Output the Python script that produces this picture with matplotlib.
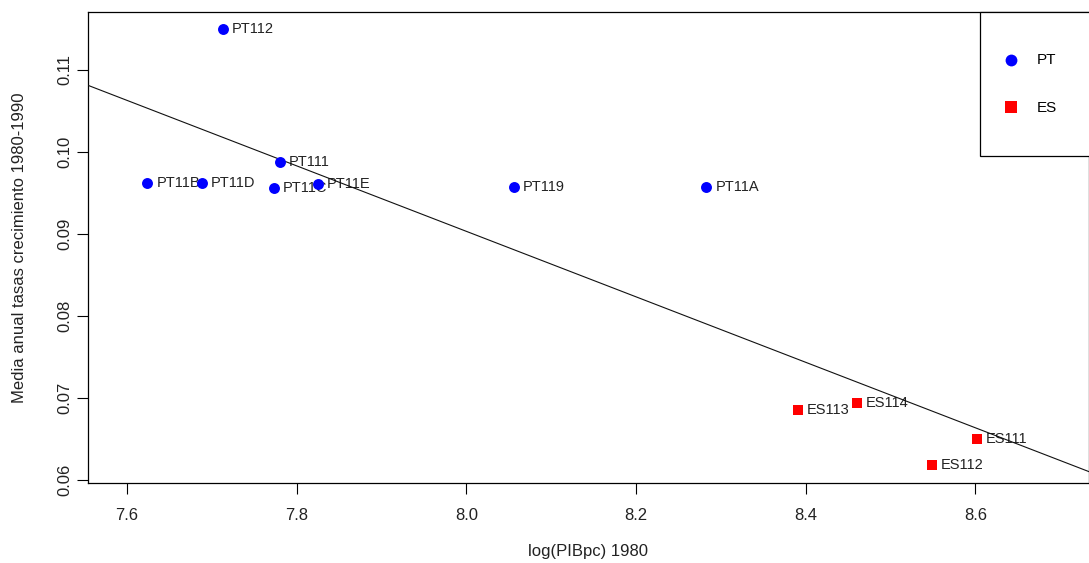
import numpy as np
import matplotlib
matplotlib.use("Agg")
import matplotlib.pyplot as plt
from matplotlib.lines import Line2D
from matplotlib.legend_handler import HandlerLine2D

plt.rcParams['font.family'] = ['Liberation Sans', 'DejaVu Sans']

# Regiones NUTS: log del PIB per cápita 1980 y crecimiento medio anual 1980-1990
regiones = ['PT112', 'PT111', 'PT11B', 'PT11D', 'PT11C', 'PT11E', 'PT119', 'PT11A',
            'ES113', 'ES114', 'ES111', 'ES112']
pais = ['PT'] * 8 + ['ES'] * 4
log_pib = [7.713, 7.780, 7.624, 7.688, 7.773, 7.825, 8.056, 8.283,
           8.391, 8.460, 8.602, 8.549]
crec = [0.1150, 0.09878, 0.09622, 0.09622, 0.09561, 0.0961, 0.09573, 0.09573,
        0.06854, 0.06939, 0.0650, 0.06183]

xticks = [7.6, 7.8, 8.0, 8.2, 8.4, 8.6]
yticks = [0.06, 0.07, 0.08, 0.09, 0.10, 0.11]

x = np.array(log_pib)
y = np.array(crec)
grp = np.array(pais)


class HandlerBajo(HandlerLine2D):
    """Marcador de leyenda centrado con el texto."""
    def create_artists(self, legend, orig_handle, xdescent, ydescent,
                       width, height, fontsize, trans):
        arts = super().create_artists(legend, orig_handle, xdescent, ydescent,
                                      width, height, fontsize, trans)
        for art in arts:
            art.set_ydata(np.asarray(art.get_ydata()) - 6.5)
        return arts


fig = plt.figure(figsize=(10.89, 5.63), dpi=100)
ax = fig.add_axes([88/1089, 1 - 483/563, 1001/1089, 471/563])

ax.scatter(x[grp == 'PT'], y[grp == 'PT'], s=62, c='#0000ff', marker='o',
           linewidths=0, zorder=4)
ax.scatter(x[grp == 'ES'], y[grp == 'ES'], s=58, c='#ff0000', marker='s',
           linewidths=0, zorder=4)

for nom, xi, yi in zip(regiones, x, y):
    ax.annotate(nom, (xi, yi), xytext=(6.5, 0), textcoords='offset points',
                va='center', ha='left', fontsize=10.5, color='#222222', zorder=2)

# recta de regresión (abline(lm(y ~ x)))
b, a = np.polyfit(x, y, 1)
xx = np.array([7.4, 8.9])
ax.plot(xx, a + b * xx, color='#111111', lw=0.8, zorder=3)

ax.set_xlim(7.554, 8.734)
ax.set_ylim(0.05963, 0.11707)
ax.set_xticks(xticks)
ax.set_xticklabels([f'{v:.1f}' for v in xticks])
ax.set_yticks(yticks)
ax.set_yticklabels([f'{v:.2f}' for v in yticks])
ax.tick_params(axis='both', direction='out', length=8, width=0.8,
               labelsize=12, labelcolor='#222222')
ax.tick_params(axis='x', pad=10)
ax.tick_params(axis='y', pad=3)
plt.setp(ax.get_yticklabels(), rotation=90, va='center')

for sp in ax.spines.values():
    sp.set_linewidth(0.9)

ax.set_xlabel('log(PIBpc) 1980', fontsize=12, color='#222222', labelpad=15)
ax.set_ylabel('Media anual tasas crecimiento 1980-1990', fontsize=12,
              color='#222222', labelpad=22)

handles = [
    Line2D([], [], marker='o', ls='none', color='#0000ff', markersize=8.5, mew=0),
    Line2D([], [], marker='s', ls='none', color='#ff0000', markersize=8, mew=0),
]
fs = 11 * 100 / 72
leg = ax.legend(handles, ['PT', 'ES'], loc='upper left',
                bbox_to_anchor=((980 - 88) / 1001, (483 - 158) / 471, 0.2, 146 / 471),
                mode='expand', borderaxespad=0, fontsize=11, fancybox=False,
                framealpha=1, edgecolor='black',
                borderpad=25 / fs, handlelength=12 / fs, handletextpad=20 / fs,
                handleheight=48 / 11, labelspacing=0,
                handler_map={Line2D: HandlerBajo()})
leg.get_frame().set_linewidth(0.9)

fig.savefig('out.png', dpi=100)
